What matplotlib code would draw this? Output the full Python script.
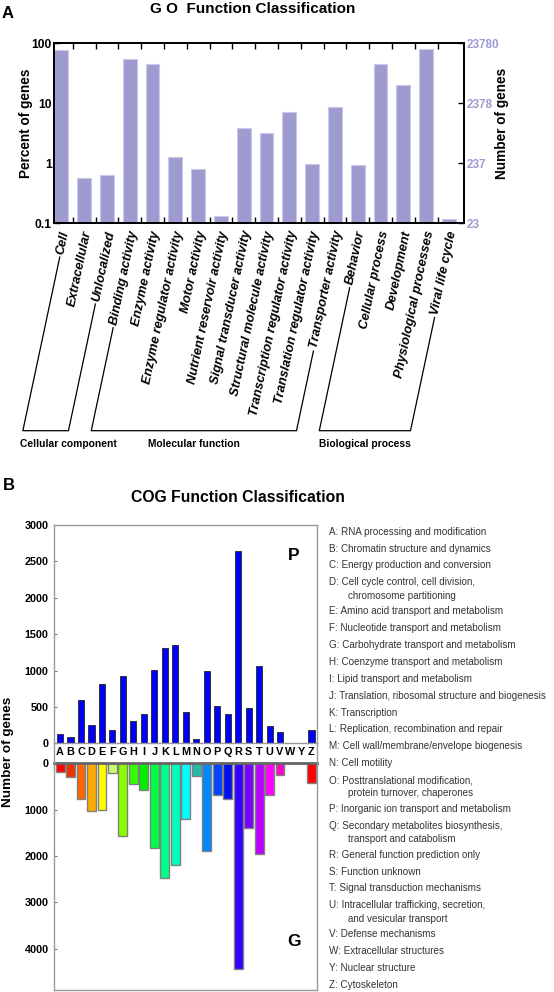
import matplotlib
matplotlib.use('Agg')
import matplotlib.pyplot as plt
import matplotlib.transforms as mtransforms
from matplotlib.lines import Line2D
from matplotlib.ticker import NullLocator, FixedLocator
from matplotlib import font_manager as fm
import numpy as np

# ---------------- data ----------------
go_categories = ["Cell", "Extracellular", "Unlocalized", "Binding activity", "Enzyme activity",
                 "Enzyme regulator activity", "Motor activity", "Nutrient reservoir activity",
                 "Signal transducer activity", "Structural molecule activity",
                 "Transcription regulator activity", "Translation regulator activity",
                 "Transporter activity", "Behavior", "Cellular process", "Development",
                 "Physiological processes", "Viral life cycle"]
go_percent = [76, 0.57, 0.63, 53.5, 45, 1.27, 0.79, 0.13, 3.9, 3.2, 7.2, 0.97, 8.6, 0.93,
              45, 20, 80, 0.115]
go_groups = [("Cellular component", 0, 2), ("Molecular function", 3, 12),
             ("Biological process", 13, 17)]
go_left_ticks = [0.1, 1, 10, 100]
go_left_labels = ["0.1", "1", "10", "100"]
go_right_labels = ["23", "237", "2378", "23780"]
go_total = 23780 / 100.0

cog_letters = ["A", "B", "C", "D", "E", "F", "G", "H", "I", "J", "K", "L", "M", "N", "O",
               "P", "Q", "R", "S", "T", "U", "V", "W", "Y", "Z"]
cog_p = [125, 83, 600, 258, 820, 189, 926, 309, 405, 1005, 1309, 1350, 429, 60, 995, 507,
         396, 2645, 484, 1065, 240, 161, 6, 6, 180]
cog_g = [196, 304, 768, 1029, 1000, 217, 1567, 456, 580, 1825, 2466, 2185, 1207, 268, 1890,
         688, 768, 4440, 1401, 1961, 674, 254, 0, 0, 415]
cog_g_colors = ["#ff0000", "#ee3300", "#ff6600", "#ffaa00", "#ffff00", "#ccff66", "#88ff00",
                "#33ff00", "#00ee00", "#00ff44", "#00ff88", "#00ffbb", "#00ffff", "#22bbaa",
                "#0088ff", "#0044ff", "#0010ee", "#3300ff", "#7700ff", "#bb00ff", "#ff00ff",
                "#ff00cc", "#ffffff", "#ffffff", "#ff0000"]
cog_desc = ["A: RNA processing and modification",
            "B: Chromatin structure and dynamics",
            "C: Energy production and conversion",
            "D: Cell cycle control, cell division,\nchromosome partitioning",
            "E: Amino acid transport and metabolism",
            "F: Nucleotide transport and metabolism",
            "G: Carbohydrate transport and metabolism",
            "H: Coenzyme transport and metabolism",
            "I: Lipid transport and metabolism",
            "J: Translation, ribosomal structure and biogenesis",
            "K: Transcription",
            "L: Replication, recombination and repair",
            "M: Cell wall/membrane/envelope biogenesis",
            "N: Cell motility",
            "O: Posttranslational modification,\nprotein turnover, chaperones",
            "P: Inorganic ion transport and metabolism",
            "Q: Secondary metabolites biosynthesis,\ntransport and catabolism",
            "R: General function prediction only",
            "S: Function unknown",
            "T: Signal transduction mechanisms",
            "U: Intracellular trafficking, secretion,\nand vesicular transport",
            "V: Defense mechanisms",
            "W: Extracellular structures",
            "Y: Nuclear structure",
            "Z: Cytoskeleton"]

# ---------------- fonts ----------------
names = {f.name for f in fm.fontManager.ttflist}
SANS = ['Liberation Sans', 'DejaVu Sans']
if 'Liberation Sans Narrow' in names:
    NARROW = ['Liberation Sans Narrow', 'Liberation Sans', 'DejaVu Sans']
    ns = 1.0
else:
    NARROW = SANS
    ns = 0.82
plt.rcParams['font.family'] = SANS

W, H = 554, 992
fig = plt.figure(figsize=(W / 100, H / 100), dpi=100)


def fx(px):
    return px / W


def fy(py):
    return 1 - py / H


# ---------------- panel A ----------------
go_color = '#9d9bd0'
axA = fig.add_axes([fx(54.3), fy(223), fx(464) - fx(54.3), fy(43) - fy(223)])
xa = np.arange(len(go_categories))
axA.set_yscale('log')
axA.bar(xa, go_percent, width=0.61, color=go_color, edgecolor='#cac8e8', linewidth=0.8,
        zorder=2)
axA.set_ylim(0.1, 100)
axA.set_xlim(-0.307, 17.66)
axA.set_yticks(go_left_ticks)
axA.set_yticklabels(go_left_labels, fontfamily=NARROW, fontweight='bold',
                    fontsize=10.6 * ns)
axA.yaxis.set_minor_locator(NullLocator())
axA.set_xticks([])
axA.xaxis.set_minor_locator(FixedLocator(xa[:-1] + 0.5))
axA.tick_params(axis='x', which='minor', direction='in', length=4, top=True, bottom=True,
                width=1)
axA.tick_params(axis='y', which='major', direction='in', length=4, width=1, pad=2)
for sp in axA.spines.values():
    sp.set_linewidth(1.3)

ax2 = axA.twinx()
ax2.set_yscale('log')
ax2.set_ylim(0.1 * go_total, 100 * go_total)
ax2.set_yticks([t * go_total for t in go_left_ticks])
ax2.set_yticklabels(go_right_labels, fontfamily=NARROW, fontsize=10.2 * ns, color=go_color,
                    fontweight='bold')
ax2.yaxis.set_minor_locator(NullLocator())
ax2.tick_params(axis='y', direction='in', length=4, width=1, pad=2)
for sp in ax2.spines.values():
    sp.set_linewidth(1.3)

fig.text(fx(26), fy(123), "Percent of genes", rotation=90, ha='center', va='center',
         fontsize=9.8, fontweight='bold')
fig.text(fx(502), fy(123), "Number of genes", rotation=90, ha='center', va='center',
         fontsize=9.8, fontweight='bold')
fig.text(fx(253), fy(9), "G O  Function Classification", ha='center', va='center',
         fontsize=11, fontweight='bold')
fig.text(fx(8), fy(13), "A", ha='center', va='center', fontsize=12, fontweight='bold')

ROT = 78.0
label_tr = mtransforms.blended_transform_factory(axA.transData, axA.transAxes) + \
    mtransforms.ScaledTranslation(4 / 100, -8 / 100, fig.dpi_scale_trans)
go_texts = []
for i, lab in enumerate(go_categories):
    t = axA.text(xa[i], 0, lab, transform=label_tr, rotation=ROT, rotation_mode='anchor',
                 ha='right', va='center', fontsize=9.3, fontweight='bold', fontstyle='italic')
    go_texts.append(t)

fig.canvas.draw()
renderer = fig.canvas.get_renderer()
th = np.deg2rad(ROT)
ct, st = np.cos(th), np.sin(th)
ybase_disp = (H - 430.7) * fig.dpi / 100.0
inv = fig.transFigure.inverted()


def bracket_point(t):
    w, h, d = renderer.get_text_width_height_descent(t.get_text(), t.get_fontproperties(),
                                                     ismath=False)
    ax_, ay_ = t.get_transform().transform(t.get_position())
    sx, sy = ax_ - (w + 3) * ct, ay_ - (w + 3) * st
    tt = (sy - ybase_disp) / st
    ex, ey = sx - tt * ct, sy - tt * st
    return (sx, sy), (ex, ey)


for name, i0, i1 in go_groups:
    (s0, e0) = bracket_point(go_texts[i0])
    (s1, e1) = bracket_point(go_texts[i1])
    pts = np.array([s0, e0, e1, s1])
    fpts = inv.transform(pts)
    fig.add_artist(Line2D(fpts[:, 0], fpts[:, 1], transform=fig.transFigure, color='black',
                          lw=0.9))
    tmp = fig.text(0, 0, name, fontfamily=NARROW, fontsize=9.0 * ns, fontweight='bold')
    wname = renderer.get_text_width_height_descent(name, tmp.get_fontproperties(),
                                                   ismath=False)[0]
    tmp.remove()
    cx = (e0[0] + e1[0]) / 2.0
    left = max(cx - wname / 2.0, 20 * fig.dpi / 100.0)
    fl = inv.transform([[left, 0]])[0][0]
    fig.text(fl, fy(444), name, ha='left', va='center', fontfamily=NARROW,
             fontsize=9.0 * ns, fontweight='bold')

# ---------------- panel B ----------------
fig.text(fx(238), fy(497), "COG Function Classification", ha='center', va='center',
         fontsize=11.3, fontweight='bold')
fig.text(fx(9), fy(485), "B", ha='center', va='center', fontsize=12, fontweight='bold')

frame_col = '#9a9a9a'
xb = np.arange(len(cog_letters))
axP = fig.add_axes([fx(54.3), fy(743.3), fx(316.7) - fx(54.3), fy(525) - fy(743.3)])
axP.bar(xb, cog_p, width=0.58, color='#0000ff', edgecolor='#333333', linewidth=0.7)
axP.set_xlim(-0.55, 24.5)
axP.set_ylim(0, 3000)
axP.set_yticks(range(0, 3001, 500))
axP.set_xticks(xb)
axP.set_xticklabels(cog_letters, fontsize=7.8, fontweight='bold')
axP.tick_params(axis='x', length=0, pad=3)
axP.tick_params(axis='y', direction='in', length=2, color='#777777', pad=4,
                labelsize=7.8)
for lab in axP.get_yticklabels():
    lab.set_fontweight('bold')
for sp in axP.spines.values():
    sp.set_color(frame_col)
    sp.set_linewidth(1.0)

axG = fig.add_axes([fx(54.3), fy(990), fx(316.7) - fx(54.3), fy(763.3) - fy(990)])
axG.bar(xb, cog_g, width=0.85, color=cog_g_colors, edgecolor='#808080', linewidth=1.0)
axG.set_xlim(-0.55, 24.5)
axG.set_ylim(4886, 0)
axG.set_yticks(range(0, 4001, 1000))
axG.set_xticks([])
axG.tick_params(axis='y', direction='in', length=2, color='#777777', pad=4, labelsize=7.8)
for lab in axG.get_yticklabels():
    lab.set_fontweight('bold')
for sp in axG.spines.values():
    sp.set_color(frame_col)
    sp.set_linewidth(1.0)
axG.spines['top'].set_color('#666666')
axG.spines['top'].set_linewidth(2.0)

# connect frame sides across the letter strip
for xpx in (54.3, 316.7):
    fig.add_artist(Line2D([fx(xpx), fx(xpx)], [fy(743.3), fy(763.3)],
                          transform=fig.transFigure, color=frame_col, lw=1.0))

fig.text(fx(8), fy(752), "Number of genes", rotation=90, ha='center', va='center',
         fontsize=9.7, fontweight='bold')
fig.text(fx(294), fy(556), "P", ha='center', va='center', fontsize=12.5, fontweight='bold')
fig.text(fx(294.5), fy(941), "G", ha='center', va='center', fontsize=12.5,
         fontweight='bold')

# legend of COG categories
leg_fs = 8.65 * ns
y = 531.7
prev_cont = False
for k, desc in enumerate(cog_desc):
    parts = desc.split("\n")
    if k > 0:
        y += 15.5 if prev_cont else 16.9
    fig.text(fx(329), fy(y), parts[0], ha='left', va='center', fontfamily=NARROW,
             fontsize=leg_fs, color='#333333')
    prev_cont = False
    for cont in parts[1:]:
        y += 13.3
        fig.text(fx(348), fy(y), cont, ha='left', va='center', fontfamily=NARROW,
                 fontsize=leg_fs, color='#333333')
        prev_cont = True

fig.savefig("out.png", dpi=100)
